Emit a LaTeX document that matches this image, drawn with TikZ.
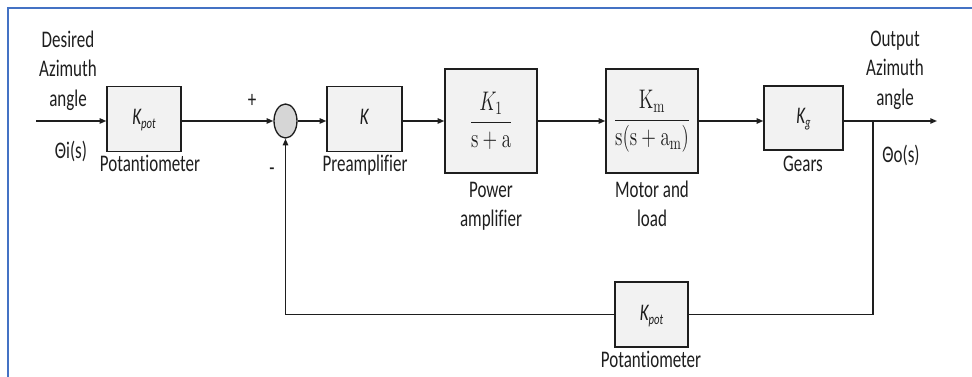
\documentclass[tikz,border=0pt]{standalone}
\usepackage[no-math]{fontspec}
\setmainfont{Carlito}[Ligatures={NoCommon}]
\usepackage{graphicx}
\usetikzlibrary{arrows.meta,shapes.geometric}
\definecolor{boxgray}{HTML}{F2F2F2}
\definecolor{sumgray}{HTML}{D6D6D6}
\definecolor{frameblue}{HTML}{4472C4}
\definecolor{ink}{HTML}{1E1E1E}
\newcommand\vtxt[1]{\scalebox{1}[1.4]{\begin{tabular}{@{}c@{}}#1\end{tabular}}}
\newcommand\ksub[1]{\textit{K\raisebox{-0.35ex}{\fontsize{8}{8}\selectfont #1}}}
\begin{document}
\begin{tikzpicture}[x=0.75pt,y=-0.75pt,
  blk/.style={draw=ink, line width=1pt, fill=boxgray, inner sep=0pt, anchor=center, text=ink,
              font=\fontsize{12.75}{15.8}\selectfont},
  lbl/.style={inner sep=0pt, font=\fontsize{12.75}{15.8}\selectfont, text=ink},
  sig/.style={draw=ink, line width=1.1pt, -{Triangle[length=5pt,width=4pt]}},
  wire/.style={draw=ink, line width=1.1pt}]
\useasboundingbox (0,0) rectangle (972,377);
\draw[frameblue, line width=1.5pt] (8,377) -- (8,8) -- (972,8);

% blocks
\node[blk, minimum width=55.5pt, minimum height=48.75pt] (pot1) at (144,119) {\vtxt{\ksub{pot}}};
\node[draw=ink, line width=1pt, fill=sumgray, ellipse, inner sep=0pt,
      minimum width=17.25pt, minimum height=25.5pt] (sum) at (285.5,121) {};
\node[blk, minimum width=56.25pt, minimum height=48.75pt] (kb) at (364.5,119) {\vtxt{\textit{K}}};
\node[blk, minimum width=69pt, minimum height=78pt] (pa) at (491,121)
  {\vtxt{\fontsize{14.5}{18}\selectfont$\displaystyle\frac{K_1}{\mathrm{s+a}}$}};
\node[blk, minimum width=69pt, minimum height=78pt] (mo) at (652,121)
  {\vtxt{\fontsize{14.5}{18}\selectfont$\displaystyle\frac{\mathrm{K_m}}{\mathrm{s(s+a_m)}}$}};
\node[blk, minimum width=59.25pt, minimum height=48pt] (ge) at (803.5,118) {\vtxt{\ksub{g}}};
\node[blk, minimum width=54.75pt, minimum height=48.75pt] (fb) at (651.5,314.5) {\vtxt{\ksub{pot}}};

% labels
\node[lbl] (desired) at (68,71) {\vtxt{Desired\\Azimuth\\angle}};
\node[lbl] (thetai) at (71,153) {\vtxt{Θi(s)}};
\node[lbl] (potlbl) at (150,166) {\vtxt{Potantiometer}};
\node[lbl] (plus) at (252,102) {\vtxt{+}};
\node[lbl] (minus) at (272,170) {\vtxt{-}};
\node[lbl] (prelbl) at (365,166) {\vtxt{Preamplifier}};
\node[lbl] (palbl) at (491,206) {\vtxt{Power\\amplifier}};
\node[lbl] (molbl) at (652,206) {\vtxt{Motor and\\load}};
\node[lbl] (gelbl) at (803,166) {\vtxt{Gears}};
\node[lbl] (outlbl) at (895,70) {\vtxt{Output\\Azimuth\\angle}};
\node[lbl] (thetao) at (901,157) {\vtxt{Θo(s)}};
\node[lbl] (fblbl) at (651,362) {\vtxt{Potantiometer}};

% connectors
\coordinate (in) at (36,121);
\coordinate (out) at (937,121);
\coordinate (br) at (873,121);
\draw[sig] (in) -- (in -| pot1.west);
\draw[sig] (in -| pot1.east) -- (sum.west);
\draw[sig] (sum.east) -- (sum -| kb.west);
\draw[sig] (kb.east |- sum) -- (pa.west);
\draw[sig] (pa.east) -- (mo.west);
\draw[sig] (mo.east) -- (mo -| ge.west);
\draw[sig] (ge.east |- out) -- (out);
\draw[wire] (br) -- (br |- fb.east) -- (fb.east);
\draw[sig] (fb.west) -- (sum |- fb.west) -- (sum.south);
\end{tikzpicture}
\end{document}
